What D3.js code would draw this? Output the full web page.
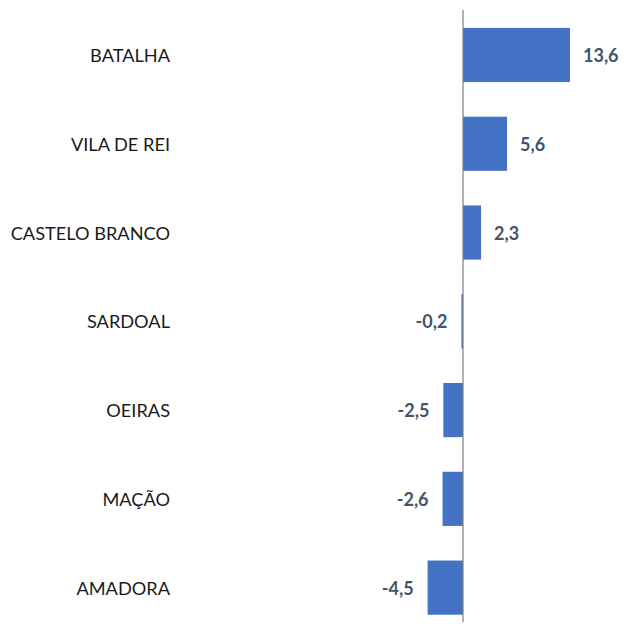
<!DOCTYPE html>
<html><head><meta charset="utf-8">
<script src="https://cdn.jsdelivr.net/npm/d3@7"></script>
<style>body{margin:0;background:#fff}</style>
</head><body>
<svg id="c" width="624" height="627"></svg>
<script>
const categories = ["BATALHA","VILA DE REI","CASTELO BRANCO","SARDOAL","OEIRAS","MAÇÃO","AMADORA"];
const values = [13.6, 5.6, 2.3, -0.2, -2.5, -2.6, -4.5];
const valueLabels = ["13,6","5,6","2,3","-0,2","-2,5","-2,6","-4,5"];

const svg = d3.select("#c");
const x = d3.scaleLinear().domain([-6, 16]).range([415.8, 588.9]);
const y = d3.scaleBand().domain(categories).range([10.6, 632]).paddingInner(0.39).paddingOuter(0.195);

svg.selectAll("rect.bar").data(values).enter().append("rect")
  .attr("class","bar")
  .attr("x", d => x(Math.min(0,d)))
  .attr("width", d => Math.abs(x(d)-x(0)))
  .attr("y", (d,i) => y(categories[i]))
  .attr("height", y.bandwidth())
  .attr("fill", "#4472C4");

svg.append("line").attr("x1", x(0)).attr("x2", x(0)).attr("y1", 10).attr("y2", 622)
  .attr("stroke", "#7f7f7f").attr("stroke-width", 1.2);

svg.selectAll("text.cat").data(categories).enter().append("text")
  .attr("class","cat")
  .attr("x", 170).attr("y", d => y(d) + y.bandwidth()/2)
  .attr("text-anchor","end").attr("dominant-baseline","central")
  .attr("font-family","Lato, sans-serif").attr("font-size", 18.2)
  .attr("fill","#1a1a1a").text(d => d);

svg.selectAll("text.val").data(values).enter().append("text")
  .attr("class","val")
  .attr("x", d => d >= 0 ? x(d) + 13 : x(d) - 14)
  .attr("y", (d,i) => y(categories[i]) + y.bandwidth()/2)
  .attr("text-anchor", d => d >= 0 ? "start" : "end")
  .attr("dominant-baseline","central")
  .attr("font-family","Lato, sans-serif").attr("font-weight","bold").attr("font-size", 18)
  .attr("fill","#44546A").text((d,i) => valueLabels[i]);
</script>
</body></html>
